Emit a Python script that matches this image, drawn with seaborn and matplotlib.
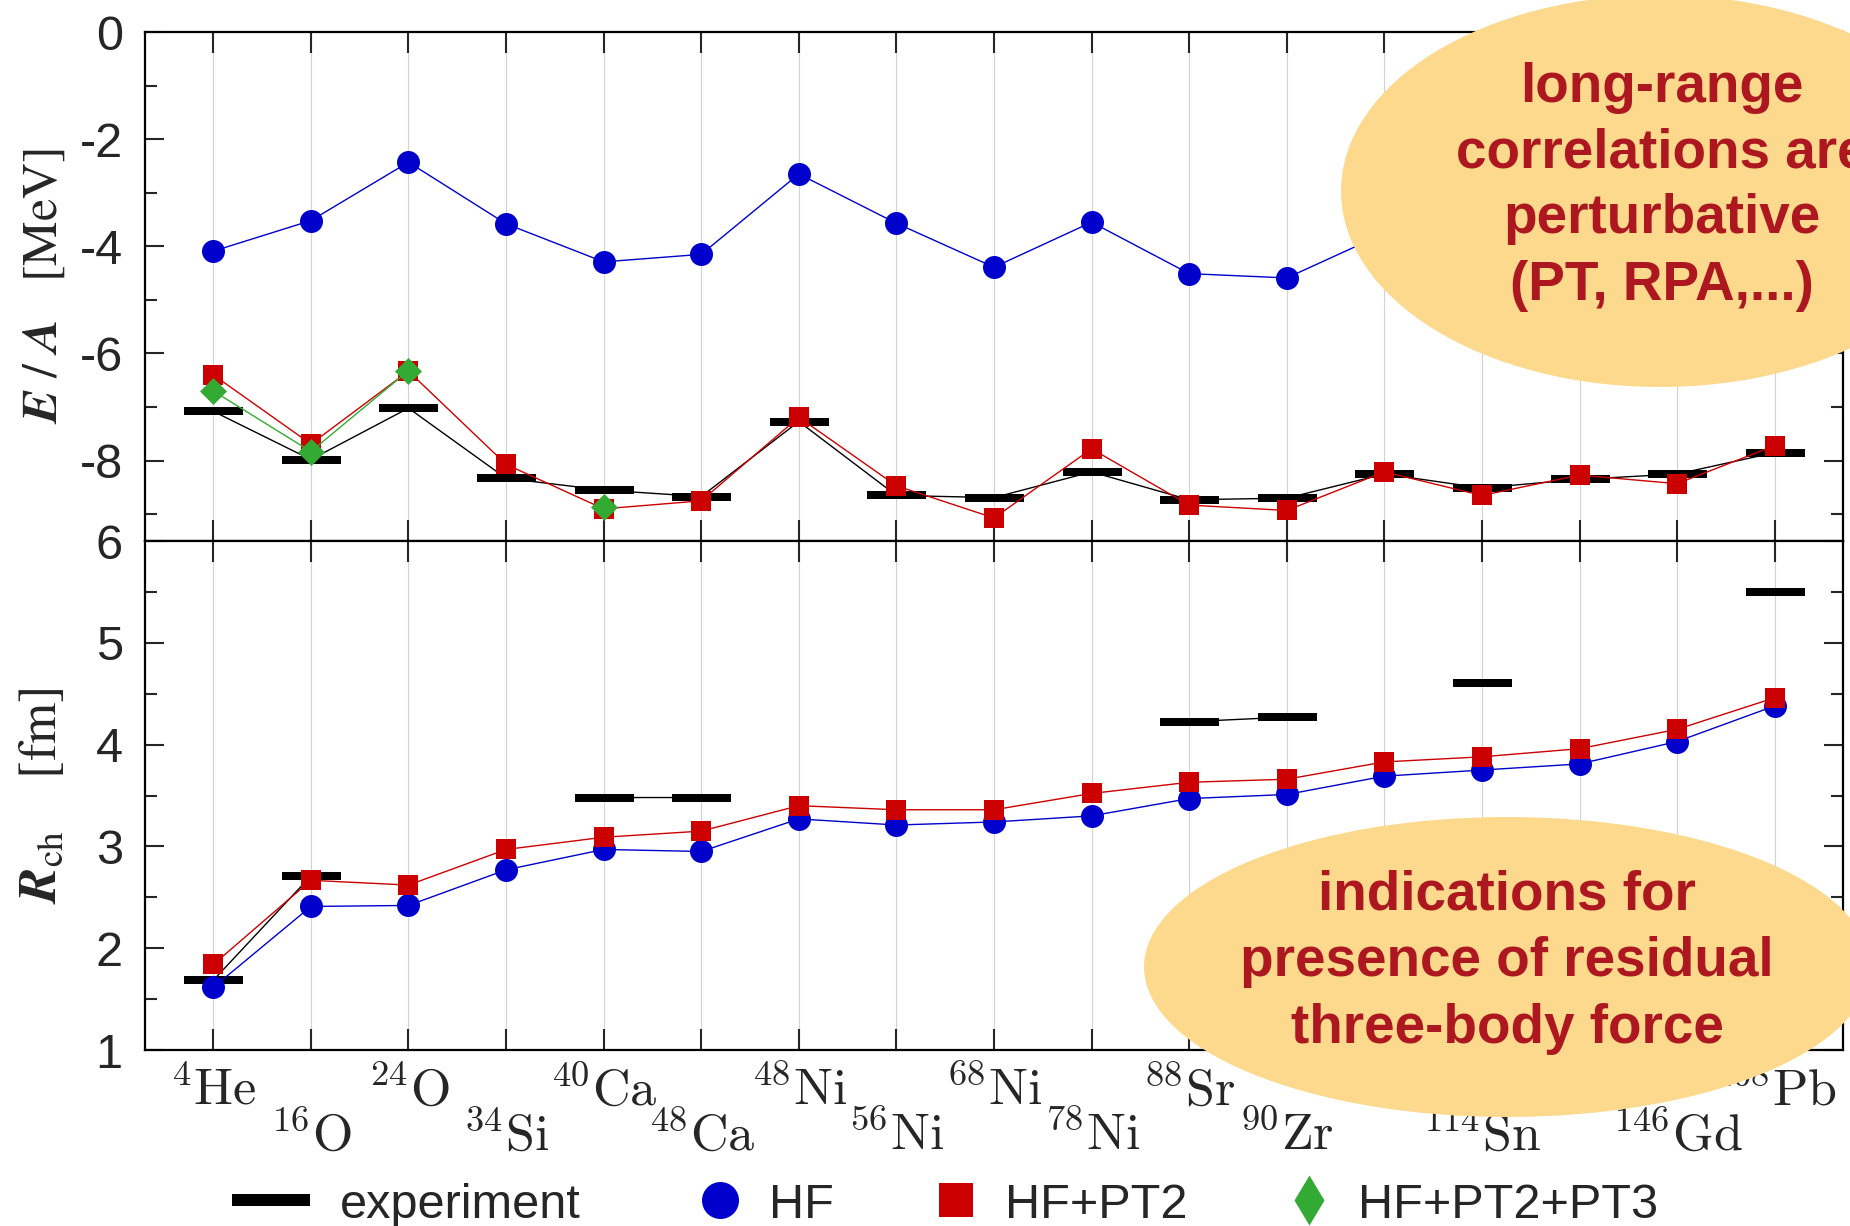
import numpy as np
import pandas as pd
import matplotlib
matplotlib.use("Agg")
import matplotlib.pyplot as plt
from matplotlib.patches import Ellipse
from matplotlib.lines import Line2D
from matplotlib.ticker import MultipleLocator
import seaborn as sns

# ---------------------------------------------------------------- data
mass = ["4", "16", "24", "34", "40", "48", "48", "56", "68", "78",
        "88", "90", "100", "114", "132", "146", "208"]
element = ["He", "O", "O", "Si", "Ca", "Ca", "Ni", "Ni", "Ni", "Ni",
           "Sr", "Zr", "Sn", "Sn", "Sn", "Gd", "Pb"]

# binding energy per nucleon [MeV]
ea_exp = [-7.08, -7.98, -7.02, -8.33, -8.55, -8.67, -7.27, -8.65, -8.69,
          -8.21, -8.73, -8.70, -8.25, -8.51, -8.35, -8.25, -7.85]
ea_hf = [-4.09, -3.52, -2.43, -3.58, -4.29, -4.15, -2.65, -3.57, -4.39,
         -3.55, -4.51, -4.59, -3.76, -4.00, -4.30, -4.40, -4.20]
ea_pt2 = [-6.40, -7.69, -6.33, -8.07, -8.90, -8.75, -7.19, -8.47, -9.07,
          -7.78, -8.83, -8.93, -8.21, -8.65, -8.27, -8.43, -7.72]
ea_pt3 = [-6.70, -7.83, -6.32, np.nan, -8.87, np.nan, np.nan, np.nan, np.nan,
          np.nan, np.nan, np.nan, np.nan, np.nan, np.nan, np.nan, np.nan]

# charge radii [fm]
rch_exp = [1.685, 2.71, np.nan, np.nan, 3.48, 3.48, np.nan, np.nan, np.nan,
           np.nan, 4.225, 4.27, np.nan, 4.61, np.nan, np.nan, 5.50]
rch_hf = [1.615, 2.41, 2.42, 2.77, 2.97, 2.95, 3.27, 3.21, 3.24, 3.30,
          3.47, 3.51, 3.69, 3.75, 3.81, 4.03, 4.38]
rch_pt2 = [1.84, 2.667, 2.62, 2.97, 3.09, 3.15, 3.40, 3.36, 3.36, 3.52,
           3.63, 3.66, 3.83, 3.88, 3.96, 4.15, 4.46]

legend_labels = ["experiment", "HF", "HF+PT2", "HF+PT2+PT3"]
note_top = ["long-range", "correlations are", "perturbative", "(PT, RPA,...)"]
note_bottom = ["indications for", "presence of residual", "three-body force"]

# ---------------------------------------------------------------- style
sns.set_style("ticks")
plt.rcParams["font.family"] = ["Liberation Sans", "DejaVu Sans"]
plt.rcParams["mathtext.fontset"] = "cm"
plt.rcParams["axes.unicode_minus"] = False

C_EXP, C_HF, C_PT2, C_PT3 = "black", "#0000CC", "#CC0000", "#33AA33"
C_BLOB, C_NOTE = "#FDD98D", "#AD1820"
PX = 72 / 100  # points per pixel

W, H = 1850, 1226
fig = plt.figure(figsize=(W / 100, H / 100), dpi=100)


def rect(x0, y0, x1, y1):
    return [x0 / W, 1 - y1 / H, (x1 - x0) / W, (y1 - y0) / H]


ax_e = fig.add_axes(rect(145, 32, 1843, 541))
ax_r = fig.add_axes(rect(145, 541, 1843, 1050))

x = np.arange(len(mass))
df = pd.DataFrame({"x": x, "ea_exp": ea_exp, "ea_hf": ea_hf, "ea_pt2": ea_pt2,
                   "ea_pt3": ea_pt3, "rch_exp": rch_exp, "rch_hf": rch_hf,
                   "rch_pt2": rch_pt2})

bar = [(-29.5, -4.3), (29.5, -4.3), (29.5, 4.3), (-29.5, 4.3)]
diamond = [(0, 0.5), (0.5, 0), (0, -0.5), (-0.5, 0)]

exp_kw = dict(color=C_EXP, lw=1.0, marker=bar, ms=59 * PX, mew=0)
hf_kw = dict(color=C_HF, lw=1.0, marker="o", ms=23 * PX, mew=0)
pt2_kw = dict(color=C_PT2, lw=1.0, marker="s", ms=20.5 * PX, mew=0)
pt3_kw = dict(color=C_PT3, lw=1.0, marker=diamond, ms=27 * PX, mew=0)

# upper panel: energies
sns.lineplot(data=df, x="x", y="ea_exp", ax=ax_e, legend=False, **exp_kw)
sns.lineplot(data=df, x="x", y="ea_hf", ax=ax_e, legend=False, **hf_kw)
sns.lineplot(data=df, x="x", y="ea_pt2", ax=ax_e, legend=False, **pt2_kw)
ax_e.plot(df["x"], df["ea_pt3"], **pt3_kw)

# lower panel: radii (gaps where no measurement exists)
ax_r.plot(df["x"], df["rch_exp"], **exp_kw)
sns.lineplot(data=df, x="x", y="rch_hf", ax=ax_r, legend=False, **hf_kw)
sns.lineplot(data=df, x="x", y="rch_pt2", ax=ax_r, legend=False, **pt2_kw)

for ax in (ax_e, ax_r):
    ax.set_xlim(-0.7, 16.7)
    ax.set_xticks(x)
    ax.grid(axis="x", color="#d2d2d2", lw=0.8)
    ax.set_axisbelow(True)
    for s in ax.spines.values():
        s.set_linewidth(1.6)
        s.set_color("black")
    ax.tick_params(axis="x", which="major", direction="in", top=True,
                   bottom=True, length=15, width=1.5)
    ax.tick_params(axis="y", which="both", direction="in", left=True,
                   right=True, width=1.5, labelsize=35, pad=16)
    ax.tick_params(axis="y", which="major", length=14)
    ax.tick_params(axis="y", which="minor", length=8.5)
    ax.set_xlabel("")

ax_e.set_ylim(-9.5, 0)
ax_e.yaxis.set_major_locator(MultipleLocator(2))
ax_e.yaxis.set_minor_locator(MultipleLocator(1))
ax_e.set_xticklabels([])
ax_e.set_ylabel(r"$\mathbfit{E}\ /\ \mathbfit{A}\ \ \ [\mathrm{MeV}]$",
                fontsize=36, math_fontfamily="stix")

ax_r.set_ylim(1, 6)
ax_r.yaxis.set_major_locator(MultipleLocator(1))
ax_r.yaxis.set_minor_locator(MultipleLocator(0.5))
ax_r.set_ylabel(r"$\mathbfit{R}_{\mathrm{ch}}\quad\ [\mathrm{fm}]$",
                fontsize=38, math_fontfamily="stix")

ax_r.set_xticklabels([rf"${{}}^{{\mathbf{{{m}}}}}\mathrm{{{e}}}$"
                      for m, e in zip(mass, element)], fontsize=37.5)
for i, t in enumerate(ax_r.xaxis.get_major_ticks()):
    t.set_pad(12.5 if i % 2 == 0 else 45)

ax_e.yaxis.set_label_coords(-0.046, 0.5)
ax_r.yaxis.set_label_coords(-0.046, 0.5)

# ---------------------------------------------------------------- overlay
ov = fig.add_axes([0, 0, 1, 1], zorder=10)
ov.set_xlim(0, W)
ov.set_ylim(H, 0)
ov.axis("off")
ov.patch.set_alpha(0)

ov.add_patch(Ellipse((1660, 191), 638, 392, fc=C_BLOB, ec="none"))
ov.add_patch(Ellipse((1507, 967), 726, 300, fc=C_BLOB, ec="none"))
for line, yb in zip(note_top, [102, 167, 233, 300]):
    ov.text(1662, yb, line, ha="center", va="baseline", fontsize=39.5,
            fontweight="bold", color=C_NOTE)
for line, yb in zip(note_bottom, [909, 976, 1043]):
    ov.text(1507, yb, line, ha="center", va="baseline", fontsize=39.5,
            fontweight="bold", color=C_NOTE)

# legend: the measured bar sits a little left of its slot
leg_bar = [(-58, -5.75), (20, -5.75), (20, 5.75), (-58, 5.75)]
leg_diamond = [(0, 0.5), (0.3, 0), (0, -0.5), (-0.3, 0)]
handles = [
    Line2D([], [], ls="none", marker=leg_bar, ms=116 * PX, color=C_EXP, mew=0),
    Line2D([], [], ls="none", marker="o", ms=37 * PX, color=C_HF, mew=0),
    Line2D([], [], ls="none", marker="s", ms=34 * PX, color=C_PT2, mew=0),
    Line2D([], [], ls="none", marker=leg_diamond, ms=50 * PX, color=C_PT3, mew=0),
]
leg_kw = dict(loc="center left", bbox_transform=ov.transData, frameon=False,
              fontsize=35, handlelength=1.0, handletextpad=0.51,
              columnspacing=2.0, borderpad=0, borderaxespad=0)
leg1 = ov.legend(handles[:1], legend_labels[:1], bbox_to_anchor=(266, 1205),
                 ncol=1, **leg_kw)
ov.add_artist(leg1)
ov.legend(handles[1:], legend_labels[1:], bbox_to_anchor=(696, 1205),
          ncol=3, **leg_kw)

fig.savefig("out.png", dpi=100)
